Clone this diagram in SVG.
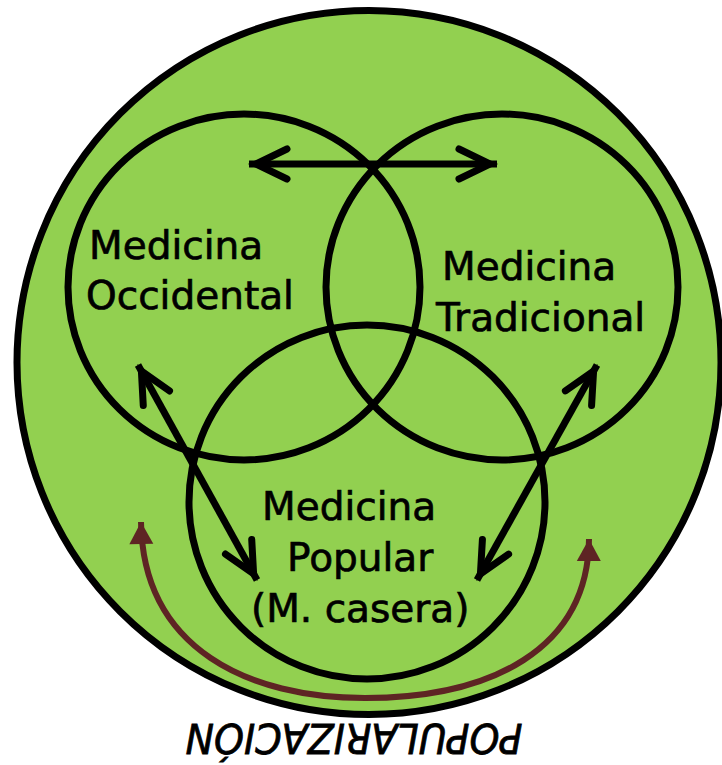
<svg xmlns="http://www.w3.org/2000/svg" width="722" height="765" viewBox="0 0 722 765">
<defs>
<style>
.ring{fill:none;stroke:#000;stroke-width:7}
.lbl{font-family:"DejaVu Sans","Verdana",sans-serif;font-size:39px;fill:#000;stroke:#000;stroke-width:0.7}
.conn{fill:none;stroke:#000;stroke-width:7}
.pop{fill:none;stroke:#5e2424;stroke-width:6}
</style>
<marker id="chev" markerUnits="userSpaceOnUse" markerWidth="60" markerHeight="60" viewBox="-45 -30 60 60" refX="0" refY="0" orient="auto-start-reverse" overflow="visible">
<path d="M-38,-15 L-7,0 L-38,15" fill="none" stroke="#000" stroke-width="7" stroke-linecap="round" stroke-linejoin="miter"/>
</marker>
<marker id="tri" markerUnits="userSpaceOnUse" markerWidth="40" markerHeight="40" viewBox="-30 -20 40 40" refX="0" refY="0" orient="auto-start-reverse" overflow="visible">
<path d="M0,0 L-22,-12 L-22,12 Z" fill="#5e2424"/>
</marker>
</defs>
<g id="poblacion">
<circle cx="369" cy="362.5" r="352" fill="#92d050" stroke="#000" stroke-width="7"/>
</g>
<g id="occidental">
<ellipse class="ring" cx="244" cy="287" rx="176" ry="173"/>
<text class="lbl" x="89" y="259">Medicina</text>
<text class="lbl" x="86" y="309">Occidental</text>
</g>
<g id="tradicional">
<ellipse class="ring" cx="502" cy="287" rx="176" ry="173"/>
<text class="lbl" x="442" y="280">Medicina</text>
<text class="lbl" x="436" y="331">Tradicional</text>
</g>
<g id="popular">
<ellipse class="ring" cx="367" cy="502" rx="178" ry="177"/>
<text class="lbl" x="262" y="520">Medicina</text>
<text class="lbl" x="287" y="571">Popular</text>
<text class="lbl" x="251" y="622">(M. casera)</text>
</g>
<g id="connectors">
<line class="conn" x1="249" y1="164" x2="497" y2="164" marker-start="url(#chev)" marker-end="url(#chev)"/>
<line class="conn" x1="138" y1="365" x2="257" y2="580" marker-start="url(#chev)" marker-end="url(#chev)"/>
<line class="conn" x1="597" y1="365" x2="477" y2="580" marker-start="url(#chev)" marker-end="url(#chev)"/>
<path class="pop" d="M141,522 C143,650 250,698 365,698 C490,698 588,650 589,539" marker-start="url(#tri)" marker-end="url(#tri)"/>
</g>
<g id="popularizacion">
<text transform="translate(354,724) rotate(180)" x="0" y="0" text-anchor="middle" textLength="337" lengthAdjust="spacingAndGlyphs" style="font-family:'DejaVu Sans',sans-serif;font-style:italic;font-size:41px;fill:#000;stroke:#000;stroke-width:0.8">POPULARIZACIÓN</text>
</g>
</svg>
